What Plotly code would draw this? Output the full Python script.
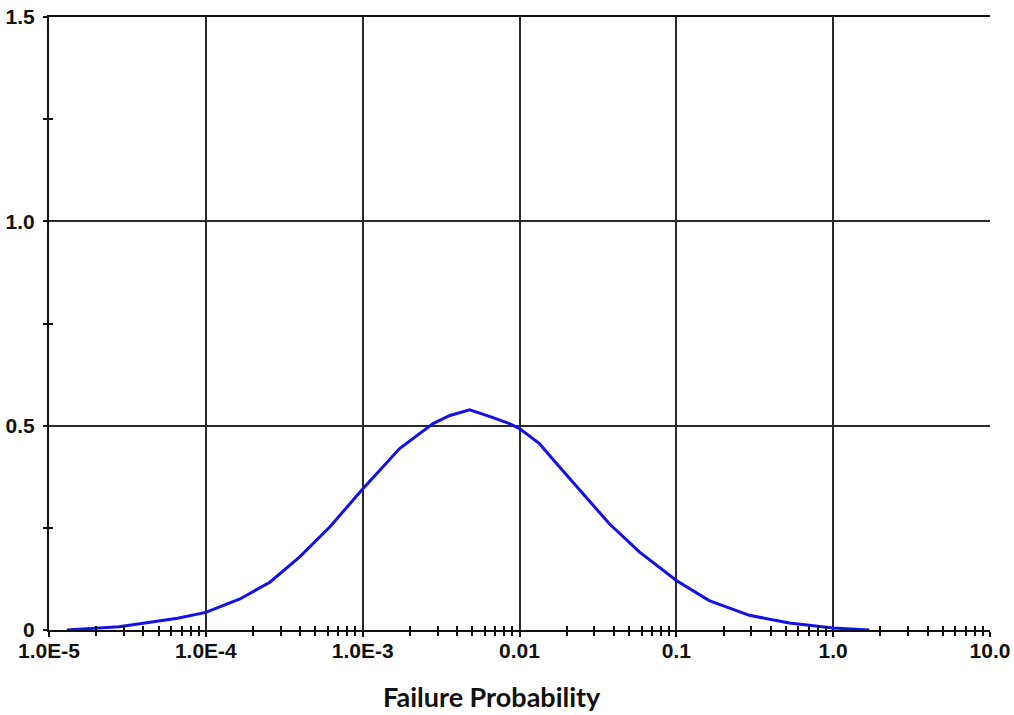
import plotly.graph_objects as go

# Data
failure_prob = [1.30e-5, 1.82e-5, 2.8e-5, 4.40e-5, 6.6e-5, 1.0e-4, 1.65e-4, 2.56e-4, 3.97e-4,
                6.17e-4, 1.0e-3, 1.72e-3, 2.81e-3, 3.6e-3, 4.81e-3, 6.5e-3, 8.63e-3, 1.0e-2,
                1.34e-2, 1.80e-2, 2.53e-2, 3.74e-2, 5.81e-2, 0.1, 0.162, 0.292, 0.525, 1.0, 1.7]
density = [0.0, 0.003, 0.008, 0.019, 0.029, 0.043, 0.076, 0.117, 0.179,
           0.252, 0.345, 0.444, 0.505, 0.525, 0.539, 0.522, 0.505, 0.493,
           0.456, 0.399, 0.334, 0.260, 0.191, 0.121, 0.072, 0.036, 0.017, 0.005, 0.0]

x_tickvals = [1e-5, 1e-4, 1e-3, 1e-2, 1e-1, 1.0, 10.0]
x_ticktext = ["1.0E-5", "1.0E-4", "1.0E-3", "0.01", "0.1", "1.0", "10.0"]
x_gridvals = [1e-4, 1e-3, 1e-2, 1e-1, 1.0]
x_minorvals = [m * d for d in [1e-5, 1e-4, 1e-3, 1e-2, 1e-1, 1.0] for m in range(2, 10)]

y_tickvals = [0, 0.5, 1.0, 1.5]
y_ticktext = ["0", "0.5", "1.0", "1.5"]
y_minorvals = [0.25, 0.75, 1.25]

line_color = "#1212e6"
grid_color = "#2a2a2a"
axis_color = "#111111"
tick_font = dict(family="Liberation Sans, Arial, sans-serif", size=21, color=axis_color, weight="bold")

fig = go.Figure()
fig.add_trace(go.Scatter(x=failure_prob, y=density, mode="lines",
                         line=dict(color=line_color, width=3), showlegend=False,
                         hoverinfo="skip"))
# transparent copy on the overlay axes so that they are drawn (grid + inner tick halves)
fig.add_trace(go.Scatter(x=failure_prob, y=density, mode="lines", xaxis="x2", yaxis="y2",
                         line=dict(color="rgba(0,0,0,0)", width=0), showlegend=False,
                         hoverinfo="skip"))

fig.update_layout(
    width=1014, height=715,
    margin=dict(l=49, r=24, t=17, b=85),
    paper_bgcolor="white", plot_bgcolor="white",
    showlegend=False,
    xaxis=dict(type="log", range=[-5, 1], tickmode="array", tickvals=x_tickvals,
               ticktext=x_ticktext, showgrid=False, zeroline=False, automargin=False,
               showline=True, mirror=True, linecolor=axis_color, linewidth=2,
               ticks="outside", ticklen=5, tickwidth=2, tickcolor=axis_color,
               tickfont=tick_font, ticklabelstandoff=-4,
               minor=dict(tickmode="array", tickvals=x_minorvals, ticks="outside",
                          ticklen=4, tickwidth=2, tickcolor=axis_color, showgrid=False)),
    xaxis2=dict(type="log", range=[-5, 1], overlaying="x", anchor="y2", side="bottom",
                tickmode="array", tickvals=x_gridvals, showticklabels=False, automargin=False,
                showgrid=True, gridcolor=grid_color, gridwidth=2, zeroline=False,
                showline=False, ticks="",
                minor=dict(tickmode="array", tickvals=x_minorvals, ticks="inside",
                           ticklen=4, tickwidth=2, tickcolor=axis_color, showgrid=False)),
    yaxis=dict(range=[0, 1.5], tickmode="array", tickvals=y_tickvals, ticktext=y_ticktext,
               showgrid=True, gridcolor=grid_color, gridwidth=2, zeroline=False, automargin=False,
               showline=True, linecolor=axis_color, linewidth=2,
               ticks="outside", ticklen=4, tickwidth=2, tickcolor=axis_color,
               tickfont=tick_font, ticklabelstandoff=4,
               minor=dict(tickmode="array", tickvals=y_minorvals, ticks="outside",
                          ticklen=4, tickwidth=2, tickcolor=axis_color, showgrid=False)),
    yaxis2=dict(range=[0, 1.5], overlaying="y", anchor="x2", side="left",
                tickmode="array", tickvals=y_tickvals, showticklabels=False, automargin=False,
                showgrid=False, zeroline=False, showline=False, ticks="",
                minor=dict(tickmode="array", tickvals=y_minorvals, ticks="inside",
                           ticklen=4, tickwidth=2, tickcolor=axis_color, showgrid=False)),
    annotations=[dict(text="Failure Probability", xref="paper", yref="paper",
                      x=0.471, y=-0.109, xanchor="center", yanchor="middle",
                      showarrow=False,
                      font=dict(family="Lato, Open Sans, sans-serif", size=27,
                                color=axis_color, weight="bold"))],
)

fig.write_html("out.html", config={"displayModeBar": False},
               post_script="document.body.style.margin='0';document.body.style.overflow='hidden';")
